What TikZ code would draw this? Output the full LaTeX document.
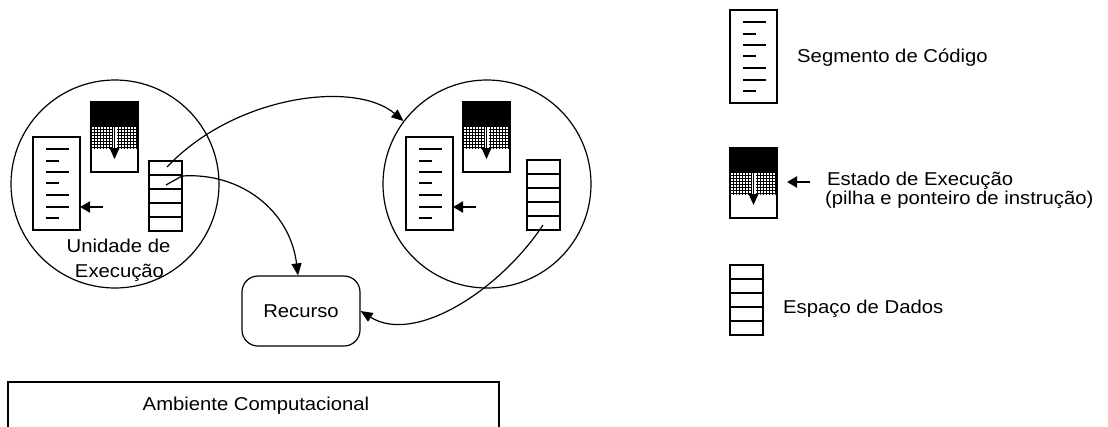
\documentclass[tikz,border=0pt]{standalone}
\usepackage{fontspec}
\setmainfont{Liberation Sans}[FakeStretch=1.09]
\usetikzlibrary{arrows.meta}

\tikzset{
  lbl/.style={inner sep=0pt, font=\fontsize{18.6pt}{22pt}\selectfont},
  iconbox/.style={draw, line width=1.8pt, inner sep=0pt, outer sep=0pt, rectangle},
  iconline/.style={line width=1.8pt},
  host/.style={draw, circle, line width=1.2pt, minimum size=208pt, inner sep=0pt},
  flow/.style={line width=1.2pt, -{Triangle[length=12pt,width=10pt]}},
  pointer/.style={line width=2pt, -{Triangle[length=10pt,width=11pt]}},
  % code segment: box with listing lines
  codeseg/.pic={
    \node[iconbox, minimum width=47pt, minimum height=93pt, anchor=north west] (-box) at (0,0) {};
    \foreach \yy/\len in {12/36,24/26,35/36,46/26,58/36,70/36,81/26}
      \draw[iconline] (13,\yy) -- (\len,\yy);
  },
  % data space: box split into five rows
  dataspace/.pic={
    \node[iconbox, minimum width=33pt, minimum height=70pt, anchor=north west] (-box) at (0,0) {};
    \foreach \yy in {14,28,42,56}
      \draw[iconline] (0,\yy) -- (33,\yy);
  },
  % execution state: stack (black), grid, instruction pointer
  execstate/.pic={
    \fill[black] (0,0) rectangle (47,25);
    \begin{scope}
      \clip (0,25) rectangle (47,46);
      \draw[line width=1pt, step=3pt] (-3,22) grid (50,49);
    \end{scope}
    \fill[white] (21.5,25) rectangle (25.5,46);
    \draw[line width=1.5pt] (23.5,24) -- (23.5,47);
    \fill[black] (18.5,46) -- (28.5,46) -- (23.5,57) -- cycle;
    \node[iconbox, minimum width=47pt, minimum height=70pt, anchor=north west] (-box) at (0,0) {};
  }
}

\begin{document}
\begin{tikzpicture}[x=1pt, y=-1pt]
  \useasboundingbox (0,0) rectangle (1108,426);
  \fill[white] (0,0) rectangle (1108,426);
  \clip (0,0) rectangle (1108,426);

  % hosts
  \node[host] (lc) at (115,184) {};
  \node[host] (rc) at (487,184) {};

  % left execution unit
  \pic (lcode) at (33,137) {codeseg};
  \pic (lexec) at (91,102) {execstate};
  \pic (ldata) at (149,161) {dataspace};
  \coordinate (lptr) at (103,207);
  \draw[pointer] (lptr) -- (lptr -| lcode-box.east);
  \node[lbl, anchor=base] (lunit1) at (118.5,252) {Unidade de};
  \node[lbl, anchor=base] (lunit2) at (119.5,277) {Execução};

  % right execution unit
  \pic (rcode) at (406,137) {codeseg};
  \pic (rexec) at (463,102) {execstate};
  \pic (rdata) at (527,160) {dataspace};
  \coordinate (rptr) at (476,207);
  \draw[pointer] (rptr) -- (rptr -| rcode-box.east);

  % resource
  \node[draw, line width=1.2pt, rounded corners=16pt, minimum width=118pt,
        minimum height=70pt, inner sep=0pt, lbl] (rec) at (301,311) {Recurso};

  % migration and resource links
  \coordinate (m1) at (167,167);
  \coordinate (m2) at (166,185);
  \coordinate (m2b) at (182,176);
  \coordinate (m3) at (543,225);
  \draw[flow] (m1) .. controls (235,95) and (355,80) .. (rc.143);
  \draw[line width=1.2pt] (m2) -- (m2b);
  \draw[flow] (m2b) .. controls (240,172) and (290,210) .. ([xshift=-3pt]rec.north);
  \draw[flow] (m3) .. controls (500,290) and (415,345) .. (rec.east);

  % computational environment
  \node[draw, line width=1.5pt, minimum width=491pt, minimum height=80pt,
        anchor=north, inner sep=0pt] (env) at (253.5,381) {};
  \node[lbl, anchor=base] (envlbl) at (256,410) {Ambiente Computacional};

  % legend
  \pic (kcode) at (730,10) {codeseg};
  \node[lbl, anchor=base west] (kcodelbl) at (797,62) {Segmento de Código};
  \pic (kexec) at (730,148) {execstate};
  \coordinate (kptr) at (810,182);
  \draw[pointer] (kptr) -- (787,182);
  \node[lbl, anchor=base west] (kexeclbl1) at (827,185) {Estado de Execução};
  \node[lbl, anchor=base west] (kexeclbl2) at (825,204.5) {(pilha e ponteiro de instrução)};
  \pic (kdata) at (730,265) {dataspace};
  \node[lbl, anchor=base west] (kdatalbl) at (783,313) {Espaço de Dados};
\end{tikzpicture}
\end{document}
